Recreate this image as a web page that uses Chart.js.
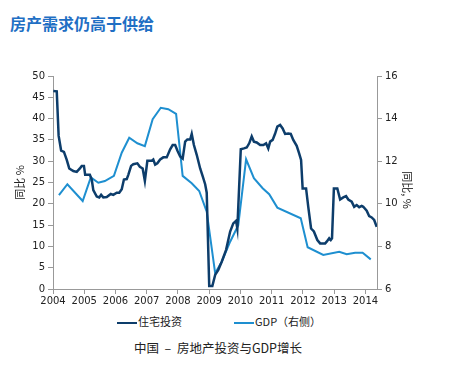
<!DOCTYPE html>
<html>
<head>
<meta charset="utf-8">
<script src="https://cdn.jsdelivr.net/npm/chart.js@4"></script>
<style>
  body { margin: 0; background: #fff; }
  #wrap { position: relative; width: 461px; height: 366px; overflow: hidden; }
  #title { position: absolute; left: 10px; top: 11px; font: bold 16px "Noto Sans CJK SC", sans-serif; color: #1f6fc4; }
  #chartBox { position: absolute; left: 0; top: 0; width: 461px; height: 312px; }
  #rightTitle { position: absolute; left: 388px; top: 183px; width: 40px; text-align: center; transform: rotate(90deg); font: 11px "Noto Sans CJK SC", sans-serif; color: #222; line-height: 14px; }
  .leg { position: absolute; top: 313px; font: 11px "Noto Sans CJK SC", "DejaVu Sans", sans-serif; color: #222; }
  .leg span { display: inline-block; width: 20px; height: 2px; vertical-align: middle; margin-right: 1px; }
  #caption { position: absolute; top: 338px; left: 0; width: 436px; text-align: center; font: 12.5px "Noto Sans CJK SC", sans-serif; color: #222; white-space: pre; }
</style>
</head>
<body>
<div id="wrap">
  <div id="title">房产需求仍高于供给</div>
  <div id="chartBox"><canvas id="c"></canvas></div>
  <div id="rightTitle">同比, %</div>
  <div class="leg" style="left:117px"><span style="background:#0d3d6b"></span>住宅投资</div>
  <div class="leg" style="left:234px"><span style="background:#1e8fd0"></span>GDP（右侧）</div>
  <div id="caption">中国  –  房地产投资与GDP增长</div>
</div>
<script>
const yearTicks = [2004, 2005, 2006, 2007, 2008, 2009, 2010, 2011, 2012, 2013, 2014];

// 住宅投资, yoy % (left axis)
const investX = [2004.01, 2004.12, 2004.18, 2004.26, 2004.35, 2004.44, 2004.52, 2004.65, 2004.76, 2004.86, 2004.92, 2004.99,
  2005.03, 2005.18, 2005.24, 2005.29, 2005.40, 2005.48, 2005.54, 2005.61, 2005.72, 2005.85, 2005.93,
  2006.04, 2006.12, 2006.20, 2006.27, 2006.36, 2006.41, 2006.50, 2006.57, 2006.70, 2006.78, 2006.87, 2006.94,
  2007.02, 2007.16, 2007.21, 2007.27, 2007.34, 2007.43, 2007.53, 2007.64, 2007.75, 2007.83, 2007.91, 2007.98,
  2008.07, 2008.15, 2008.23, 2008.30, 2008.39, 2008.44, 2008.51, 2008.60, 2008.71, 2008.79, 2008.87, 2008.92,
  2009.00, 2009.10, 2009.19, 2009.29, 2009.40, 2009.54, 2009.67, 2009.77, 2009.86, 2009.90,
  2010.01, 2010.11, 2010.20, 2010.28, 2010.36, 2010.43, 2010.52, 2010.63, 2010.73, 2010.82, 2010.89, 2010.95,
  2011.03, 2011.11, 2011.18, 2011.27, 2011.35, 2011.43, 2011.53, 2011.61, 2011.69, 2011.80, 2011.88, 2011.94,
  2011.99, 2012.10, 2012.17, 2012.26, 2012.35, 2012.46, 2012.55, 2012.71, 2012.76, 2012.84, 2012.89, 2012.93,
  2012.99, 2013.10, 2013.19, 2013.29, 2013.38, 2013.45, 2013.56, 2013.64, 2013.72, 2013.80, 2013.88, 2013.93,
  2014.04, 2014.12, 2014.20, 2014.28, 2014.36];
const investY = [46.5, 46.4, 36.0, 32.5, 32.2, 30.3, 28.3, 27.7, 27.5, 28.3, 28.9, 28.9,
  26.8, 26.8, 25.7, 23.2, 21.7, 21.5, 22.1, 21.5, 21.6, 22.3, 22.1,
  22.6, 22.6, 23.4, 25.7, 25.8, 26.8, 28.9, 29.3, 29.5, 28.7, 28.3, 25.4,
  30.1, 30.1, 30.4, 29.2, 29.5, 30.4, 30.9, 30.9, 32.8, 33.8, 33.8, 32.5,
  31.1, 30.6, 34.6, 35.1, 35.1, 36.4, 33.8, 31.5, 28.3, 26.5, 24.6, 22.6,
  0.7, 0.7, 3.3, 4.5, 6.4, 9.2, 13.5, 15.4, 16.0, 14.2,
  32.8, 33.0, 33.2, 34.2, 35.8, 34.6, 34.4, 33.8, 33.8, 34.2, 33.0, 34.6,
  35.0, 36.5, 38.1, 38.5, 37.7, 36.4, 36.5, 36.4, 35.0, 33.6, 31.8, 30.3,
  23.6, 23.6, 19.3, 14.2, 13.5, 11.5, 10.7, 10.7, 11.1, 11.9, 11.5, 11.9,
  23.6, 23.6, 21.0, 21.5, 21.8, 21.0, 20.5, 19.3, 19.7, 19.2, 19.5, 19.3,
  18.4, 17.1, 16.8, 16.2, 14.6];

// GDP yoy % (right axis)
const gdpX = [2004.19, 2004.46, 2004.95, 2005.21, 2005.45, 2005.66, 2005.95, 2006.20, 2006.44, 2006.70, 2006.94,
  2007.19, 2007.45, 2007.69, 2007.94, 2008.15, 2008.44, 2008.68, 2008.92, 2009.19, 2009.40, 2009.67, 2009.93,
  2010.18, 2010.43, 2010.71, 2010.92, 2011.18, 2011.93, 2012.15, 2012.65, 2013.16, 2013.40, 2013.67, 2013.91, 2014.17];
const gdpY = [10.41, 10.92, 10.13, 11.24, 10.99, 11.07, 11.31, 12.40, 13.10, 12.84, 12.71,
  13.97, 14.51, 14.44, 14.22, 11.31, 10.96, 10.60, 9.63, 6.74, 7.28, 8.22, 9.00,
  12.09, 11.20, 10.73, 10.45, 9.82, 9.32, 7.96, 7.60, 7.75, 7.63, 7.70, 7.70, 7.39];

const toPoints = (xs, ys) => xs.map((x, i) => ({ x: x, y: ys[i] }));

const tickFont = { family: 'DejaVu Sans', size: 10 };
const titleFont = { family: 'Noto Sans CJK SC', size: 11 };
const axisGrid = { drawOnChartArea: false, drawTicks: true, tickLength: 5, color: '#999' };

new Chart(document.getElementById('c'), {
  type: 'line',
  data: {
    datasets: [{
      label: '住宅投资',
      data: toPoints(investX, investY),
      borderColor: '#0d3d6b',
      borderWidth: 2.5,
      pointRadius: 0,
      tension: 0,
      yAxisID: 'y'
    }, {
      label: 'GDP（右侧）',
      data: toPoints(gdpX, gdpY),
      borderColor: '#1e8fd0',
      borderWidth: 2,
      pointRadius: 0,
      tension: 0,
      yAxisID: 'y2'
    }]
  },
  options: {
    responsive: true,
    maintainAspectRatio: false,
    animation: false,
    layout: { padding: { top: 76, left: 13, right: 46, bottom: 0 } },
    plugins: { legend: { display: false }, tooltip: { enabled: false } },
    scales: {
      x: {
        type: 'linear',
        min: 2004,
        max: 2014.37,
        afterBuildTicks: axis => { axis.ticks = yearTicks.map(v => ({ value: v })); },
        afterFit: axis => { axis.height = 23; },
        ticks: { font: tickFont, color: '#222', maxRotation: 0, padding: 1, callback: v => String(v) },
        grid: axisGrid,
        border: { color: '#999' }
      },
      y: {
        position: 'left',
        min: 0,
        max: 50,
        afterFit: axis => { axis.width = 40; },
        ticks: { stepSize: 5, font: tickFont, color: '#222', padding: 3 },
        grid: axisGrid,
        border: { color: '#999' },
        title: { display: true, text: '同比 %', font: titleFont, color: '#222', padding: 0 }
      },
      y2: {
        position: 'right',
        min: 6,
        max: 16,
        afterFit: axis => { axis.width = 38; },
        ticks: { stepSize: 2, font: tickFont, color: '#222', padding: 3 },
        grid: axisGrid,
        border: { color: '#999' }
      }
    }
  }
});
</script>
</body>
</html>
